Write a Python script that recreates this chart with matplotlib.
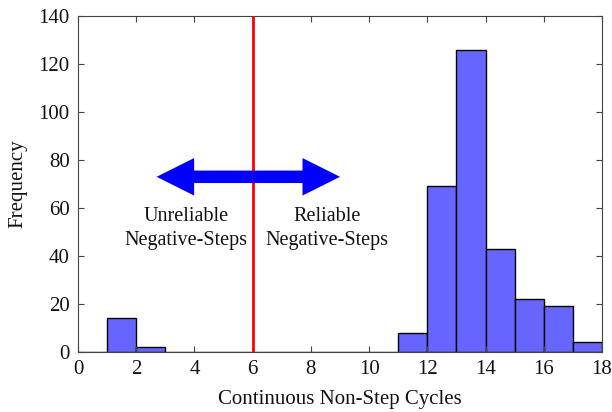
import numpy as np
import matplotlib.pyplot as plt
import matplotlib.patches as mpatches
import matplotlib

params = {'font.family': 'Liberation Serif', 'font.weight': 'normal'}
matplotlib.rcParams.update(params)

# histogram counts, unit-width bins
bin_edges = np.arange(0, 19)
counts = np.array([0, 14, 2, 0, 0, 0, 0, 0, 0, 0, 0, 8, 69, 126, 43, 22, 19, 4])
threshold = 6
arrow_y = 73
arrow_left, arrow_right = 2.7, 9.0

fig = plt.figure(figsize=(6.12, 4.12), dpi=100)
ax = fig.add_axes([0.1275, 0.1456, 0.8562, 0.8156])

ax.bar(bin_edges[:-1], counts, width=1, align='edge',
       color=(0.4, 0.4, 1.0), edgecolor='black', linewidth=1)

ax.axvline(threshold, color='red', lw=2)

# double-headed arrow: two simple arrows pointing out from the centre
for end in (arrow_left, arrow_right):
    ar = mpatches.FancyArrowPatch((threshold, arrow_y), (end, arrow_y),
                                  arrowstyle=mpatches.ArrowStyle.Simple(head_length=27, head_width=27, tail_width=9),
                                  mutation_scale=1, color='blue', lw=0,
                                  shrinkA=0, shrinkB=0, zorder=3)
    ax.add_patch(ar)

ax.text(3.7, 51.5, 'Unreliable\nNegative-Steps', ha='center', va='center', fontsize=14.5, linespacing=1.3, color='#111111')
ax.text(8.55, 51.5, 'Reliable\nNegative-Steps', ha='center', va='center', fontsize=14.5, linespacing=1.3, color='#111111')

ax.set_xlim(0, 18)
ax.set_ylim(0, 140)
ax.set_xticks(range(0, 19, 2))
ax.set_yticks(range(0, 141, 20))
ax.tick_params(direction='in', top=True, right=True, labelsize=15, length=4, color='#444444', pad=6, labelcolor='#111111')
for s in ax.spines.values():
    s.set_color('#444444')
ax.set_xlabel('Continuous Non-Step Cycles', fontsize=15, labelpad=8, color='#111111')
ax.set_ylabel('Frequency', fontsize=15, labelpad=8, color='#111111')

plt.savefig('out.png', dpi=100)
